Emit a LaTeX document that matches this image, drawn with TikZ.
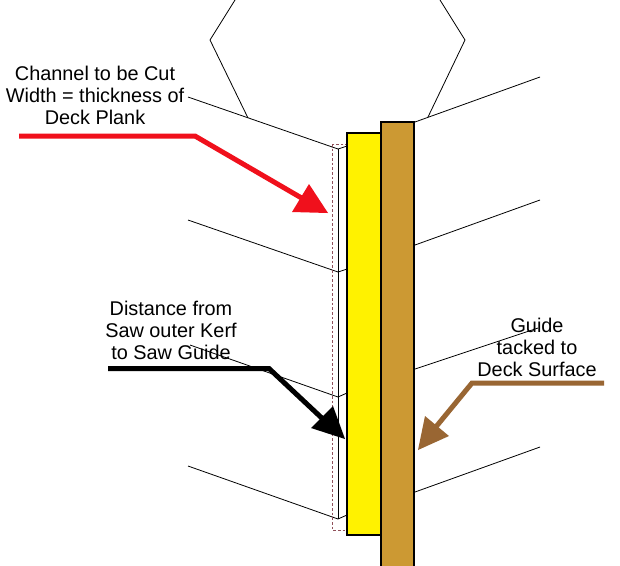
\documentclass[tikz,border=0pt]{standalone}
\usepackage{fontspec}
\setmainfont{Liberation Sans}
\definecolor{guidecol}{HTML}{CC9933}
\definecolor{arrowbrown}{HTML}{996633}
\definecolor{arrowred}{HTML}{F0101C}
\definecolor{dashred}{HTML}{90505A}
\tikzset{
  plank/.style={draw=black,line width=0.6pt},
  board/.style={draw=black,line width=0.8pt},
  kerf/.style={draw=dashred,line width=0.7pt,dash pattern=on 2pt off 1.5pt},
  pointer/.style={line width=3.75pt,line join=miter},
  lbl/.style={align=center,inner sep=0pt,text=black,font=\fontsize{14.9}{16.5}\selectfont}
}
\begin{document}
\begin{tikzpicture}[x=0.75pt,y=-0.75pt]
\useasboundingbox (0,0) rectangle (620,565);
\fill[white] (0,0) rectangle (620,565);
% saw hexagon
\draw[plank] (235,0) -- (210,40) -- (248,118);
\draw[plank] (440,0) -- (465,40) -- (428,117);
% deck planks, left
\draw[plank] (188,97) -- (338,149) -- (347,146);
\draw[plank] (188,220) -- (338,272) -- (347,269);
\draw[plank] (190,345) -- (338,397) -- (347,393);
\draw[plank] (188,466) -- (338,519) -- (347,515);
\draw[plank] (338,149) -- (338,519);
% deck planks, right
\draw[plank] (415,122) -- (540,77);
\draw[plank] (415,245) -- (540,200);
\draw[plank] (415,369) -- (538,328);
\draw[plank] (415,492) -- (540,447);
% channel
\draw[kerf] (332,144) rectangle (346,530);
% guide and saw guide
\draw[board,fill=yellow] (347,133) rectangle (381,535);
\draw[board,fill=guidecol] (381,122) rectangle (414,572);
% labels
\node[lbl] (chan) at (95,95) {Channel to be Cut\\Width = thickness of\\Deck Plank};
\node[lbl] (dist) at (171,330) {Distance from\\Saw outer Kerf\\to Saw Guide};
\node[lbl] (tack) at (537,347) {Guide\\tacked to\\Deck Surface};
% pointers
\coordinate (r0) at (19,136);
\coordinate (r1) at (195,136);
\coordinate (r2) at (305,200);
\draw[pointer,draw=arrowred] (r0) -- (r1) -- (r2);
\fill[arrowred] (328,213) -- (292,212) -- (309,184) -- cycle;
\coordinate (k0) at (108,368.5);
\coordinate (k1) at (269,368.5);
\coordinate (k2) at (325,421);
\draw[pointer,draw=black] (k0) -- (k1) -- (k2);
\fill[black] (345,439) -- (311,428) -- (333,406) -- cycle;
\coordinate (b0) at (604,383);
\coordinate (b1) at (472,383);
\coordinate (b2) at (435,428);
\draw[pointer,draw=arrowbrown] (b0) -- (b1) -- (b2);
\fill[arrowbrown] (418,450) -- (425,416) -- (449,436) -- cycle;
\end{tikzpicture}
\end{document}
